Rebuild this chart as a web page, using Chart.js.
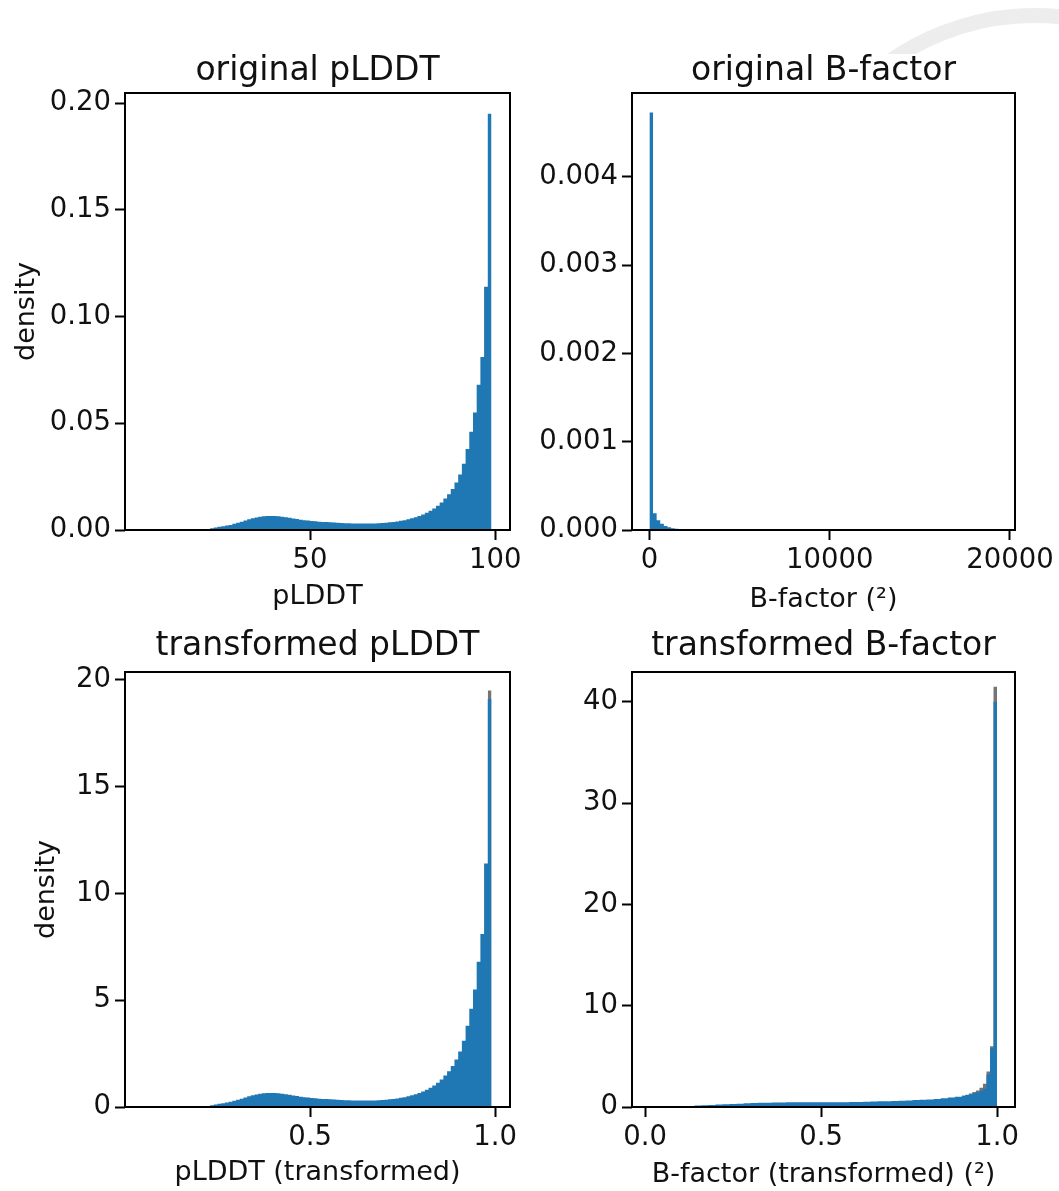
<!DOCTYPE html>
<html><head><meta charset="utf-8">
<script src="https://cdn.jsdelivr.net/npm/chart.js@4.4.1/dist/chart.umd.min.js"></script>
<style>
html,body{margin:0;padding:0;background:#fff;width:1059px;height:1191px;overflow:hidden;}
canvas{position:absolute;}
#wm{position:absolute;left:880px;top:0;width:179px;height:54px;overflow:hidden;}
#wm div{position:absolute;left:-105px;top:8px;width:520px;height:520px;border-radius:50%;border:15px solid rgba(215,215,215,0.45);box-sizing:border-box;}
</style></head><body>
<div id="wm"><div></div></div>
<canvas id="c1" width="530" height="596" style="left:0;top:20px"></canvas>
<canvas id="c2" width="529" height="596" style="left:530px;top:20px"></canvas>
<canvas id="c3" width="530" height="581" style="left:0;top:610px"></canvas>
<canvas id="c4" width="529" height="581" style="left:530px;top:610px"></canvas>
<script>
// ---------- DATA ----------
// original pLDDT histogram (left bin edges + final right edge)
const plddtEdges = [22,23,24,25,26,27,28,29,30,31,32,33,34,35,36,37,38,39,40,41,42,43,44,45,46,47,48,49,50,51,52,53,54,55,56,57,58,59,60,61,62,63,64,65,66,67,68,69,70,71,72,73,74,75,76,77,78,79,80,81,82,83,84,85,86,87,88,89,90,91,92,93,94,95,96,97,98,99];
const plddtDensity = [0.0003,0.0008,0.0012,0.0015,0.0018,0.0021,0.0024,0.0029,0.0034,0.0039,0.0044,0.0050,0.0055,0.0059,0.0062,0.0064,0.0066,0.0066,0.0066,0.0064,0.0062,0.0060,0.0057,0.0054,0.0051,0.0048,0.0046,0.0044,0.0042,0.0041,0.0039,0.0038,0.0037,0.0036,0.0035,0.0034,0.0033,0.0032,0.0032,0.0031,0.0031,0.0030,0.0030,0.0030,0.0031,0.0031,0.0032,0.0033,0.0034,0.0036,0.0038,0.0040,0.0043,0.0046,0.0050,0.0055,0.0060,0.0066,0.0073,0.0081,0.0090,0.0101,0.0114,0.0129,0.0147,0.0167,0.0192,0.0222,0.0260,0.0310,0.0380,0.0460,0.0550,0.0680,0.0810,0.1140,0.1950];
const plddtXTicks = [50,100], plddtXLabels = ["50","100"];
const plddtYTicks = [0,0.05,0.10,0.15,0.20], plddtYLabels = ["0.00","0.05","0.10","0.15","0.20"];

// original B-factor histogram
const bfacEdges = [0,200,400,600,800,1000,1200,1400,1600,1800,2000,2200,2400,2600,2800,3000];
const bfacDensity = [0.00473,0.00019,0.00011,0.00007,0.000045,0.00003,0.00002,0.000015,0.00001,0.000008,0.000006,0.000005,0.000004,0.000003,0.000002];
const bfacXTicks = [0,10000,20000], bfacXLabels = ["0","10000","20000"];
const bfacYTicks = [0,0.001,0.002,0.003,0.004], bfacYLabels = ["0.000","0.001","0.002","0.003","0.004"];

// transformed pLDDT histogram
const tplddtEdges = [0.22,0.23,0.24,0.25,0.26,0.27,0.28,0.29,0.30,0.31,0.32,0.33,0.34,0.35,0.36,0.37,0.38,0.39,0.40,0.41,0.42,0.43,0.44,0.45,0.46,0.47,0.48,0.49,0.50,0.51,0.52,0.53,0.54,0.55,0.56,0.57,0.58,0.59,0.60,0.61,0.62,0.63,0.64,0.65,0.66,0.67,0.68,0.69,0.70,0.71,0.72,0.73,0.74,0.75,0.76,0.77,0.78,0.79,0.80,0.81,0.82,0.83,0.84,0.85,0.86,0.87,0.88,0.89,0.90,0.91,0.92,0.93,0.94,0.95,0.96,0.97,0.98,0.99];
const tplddtDensity = [0.03,0.08,0.12,0.15,0.18,0.21,0.24,0.29,0.34,0.39,0.44,0.50,0.55,0.59,0.62,0.64,0.66,0.66,0.66,0.64,0.62,0.60,0.57,0.54,0.51,0.48,0.46,0.44,0.42,0.41,0.39,0.38,0.37,0.36,0.35,0.34,0.33,0.32,0.32,0.31,0.31,0.30,0.30,0.30,0.31,0.31,0.32,0.33,0.34,0.36,0.38,0.40,0.43,0.46,0.50,0.55,0.60,0.66,0.73,0.81,0.90,1.01,1.14,1.29,1.47,1.67,1.92,2.22,2.60,3.10,3.80,4.60,5.50,6.80,8.10,11.40,19.10];
const tplddtGreyEdges = [0.98,0.99];
const tplddtGreyDensity = [19.5];
const tplddtXTicks = [0.5,1.0], tplddtXLabels = ["0.5","1.0"];
const tplddtYTicks = [0,5,10,15,20], tplddtYLabels = ["0","5","10","15","20"];

// transformed B-factor histogram
const tbfacEdges = [0.10,0.12,0.14,0.16,0.18,0.20,0.22,0.24,0.26,0.28,0.30,0.32,0.34,0.36,0.38,0.40,0.42,0.44,0.46,0.48,0.50,0.52,0.54,0.56,0.58,0.60,0.62,0.64,0.66,0.68,0.70,0.72,0.74,0.76,0.78,0.80,0.82,0.84,0.86,0.88,0.90,0.91,0.92,0.93,0.94,0.95,0.96,0.97,0.98,0.99,1.00];
const tbfacDensity = [0.05,0.10,0.14,0.17,0.20,0.24,0.27,0.30,0.33,0.36,0.39,0.41,0.43,0.44,0.45,0.46,0.46,0.46,0.46,0.46,0.46,0.47,0.47,0.48,0.49,0.50,0.52,0.54,0.56,0.58,0.60,0.62,0.65,0.68,0.71,0.75,0.80,0.86,0.93,1.02,1.10,1.18,1.26,1.36,1.45,1.60,1.80,3.20,5.80,40.0];
const tbfacGreyEdges = [0.90,0.91,0.92,0.93,0.94,0.95,0.96,0.97,0.98,0.99,1.00];
const tbfacGreyDensity = [1.12,1.22,1.34,1.48,1.62,1.90,2.30,3.50,6.00,41.5];
const tbfacXTicks = [0,0.5,1.0], tbfacXLabels = ["0.0","0.5","1.0"];
const tbfacYTicks = [0,10,20,30,40], tbfacYLabels = ["0","10","20","30","40"];

// ---------- DRAWING ----------
const FONT = "'DejaVu Sans', sans-serif";
Chart.defaults.font.family = FONT;
Chart.defaults.color = '#111';
const BLUE = '#1f77b4', GREY = 'rgba(70,70,70,0.75)';

const boxPlugin = { id:'box', afterDraw(chart){
  const {ctx, chartArea:a} = chart;
  ctx.save(); ctx.strokeStyle='#000'; ctx.lineWidth=2;
  ctx.strokeRect(a.left, a.top, a.right-a.left, a.bottom-a.top);
  ctx.restore();
}};

function hist(edges, values, color, order){
  const pts = values.map((v,i)=>({x:edges[i], y:v}));
  pts.push({x:edges[values.length], y:0});
  return {data:pts, stepped:true, fill:'origin', backgroundColor:color,
    borderColor:'rgba(0,0,0,0)', borderWidth:0, pointRadius:0, pointHoverRadius:0, order:order};
}

function make(id, o){
  const yTitle = o.yTitle ? {display:true, text:o.yTitle, font:{size:27}, color:'#111', padding:{top:o.yTitlePad,bottom:0}} : {display:false};
  new Chart(document.getElementById(id), {
    type:'line',
    data:{datasets:o.datasets},
    plugins:[boxPlugin],
    options:{
      responsive:false, animation:false, devicePixelRatio:1,
      layout:{padding:o.padding},
      plugins:{
        legend:{display:false}, tooltip:{enabled:false},
        title:{display:true, text:o.title, fullSize:false, font:{size:33, weight:'normal'}, color:'#111', padding:{top:0,bottom:o.titleGap}}
      },
      scales:{
        x:{type:'linear', min:o.xMin, max:o.xMax,
          afterBuildTicks:s=>{ s.ticks = o.xTicks.map(v=>({value:v})); },
          afterFit:s=>{ s.height=o.xH; s.paddingLeft=0; s.paddingRight=0; },
          ticks:{autoSkip:false, maxRotation:0, minRotation:0, padding:4, font:{size:27.5}, color:'#111', callback:(v,i)=>o.xLabels[i]},
          grid:{display:true, drawOnChartArea:false, drawTicks:true, tickLength:10, tickWidth:2, tickColor:'#000'},
          border:{display:false},
          title:{display:true, text:o.xTitle, font:{size:27}, color:'#111', padding:{top:0,bottom:o.xTitlePad}}
        },
        y:{type:'linear', min:0, max:o.yMax,
          afterBuildTicks:s=>{ s.ticks = o.yTicks.map(v=>({value:v})); },
          afterFit:s=>{ s.width=o.yW; s.paddingTop=0; s.paddingBottom=0; },
          ticks:{autoSkip:false, padding:4, font:{size:27.5}, color:'#111', callback:(v,i)=>o.yLabels[i]},
          grid:{display:true, drawOnChartArea:false, drawTicks:true, tickLength:10, tickWidth:2, tickColor:'#000'},
          border:{display:false},
          title:yTitle
        }
      }
    }
  });
}

make('c1', {
  title:'original pLDDT', xTitle:'pLDDT', yTitle:'density',
  datasets:[hist(plddtEdges, plddtDensity, BLUE, 1)],
  xMin:0, xMax:104, xTicks:plddtXTicks, xLabels:plddtXLabels,
  yMax:0.2047, yTicks:plddtYTicks, yLabels:plddtYLabels,
  padding:{left:0,right:20,top:31.2,bottom:0}, titleGap:2.2, yW:125, xH:86, xTitlePad:2.5, yTitlePad:11
});
make('c2', {
  title:'original B-factor', xTitle:'B-factor (²)', yTitle:null,
  datasets:[hist(bfacEdges, bfacDensity, BLUE, 1)],
  xMin:-967, xMax:20278, xTicks:bfacXTicks, xLabels:bfacXLabels,
  yMax:0.00495, yTicks:bfacYTicks, yLabels:bfacYLabels,
  padding:{left:0,right:44,top:31.2,bottom:0}, titleGap:2.2, yW:102, xH:86, xTitlePad:0, yTitlePad:0
});
make('c3', {
  title:'transformed pLDDT', xTitle:'pLDDT (transformed)', yTitle:'density',
  datasets:[hist(tplddtGreyEdges, tplddtGreyDensity, GREY, 2), hist(tplddtEdges, tplddtDensity, BLUE, 1)],
  xMin:0, xMax:1.04, xTicks:tplddtXTicks, xLabels:tplddtXLabels,
  yMax:20.37, yTicks:tplddtYTicks, yLabels:tplddtYLabels,
  padding:{left:0,right:20,top:16.2,bottom:0}, titleGap:6.2, yW:125, xH:84, xTitlePad:1.8, yTitlePad:31
});
make('c4', {
  title:'transformed B-factor', xTitle:'B-factor (transformed) (²)', yTitle:null,
  datasets:[hist(tbfacGreyEdges, tbfacGreyDensity, GREY, 2), hist(tbfacEdges, tbfacDensity, BLUE, 1)],
  xMin:-0.037, xMax:1.051, xTicks:tbfacXTicks, xLabels:tbfacXLabels,
  yMax:42.96, yTicks:tbfacYTicks, yLabels:tbfacYLabels,
  padding:{left:0,right:44,top:16.2,bottom:0}, titleGap:6.2, yW:102, xH:84, xTitlePad:0, yTitlePad:0
});
</script>
</body></html>
